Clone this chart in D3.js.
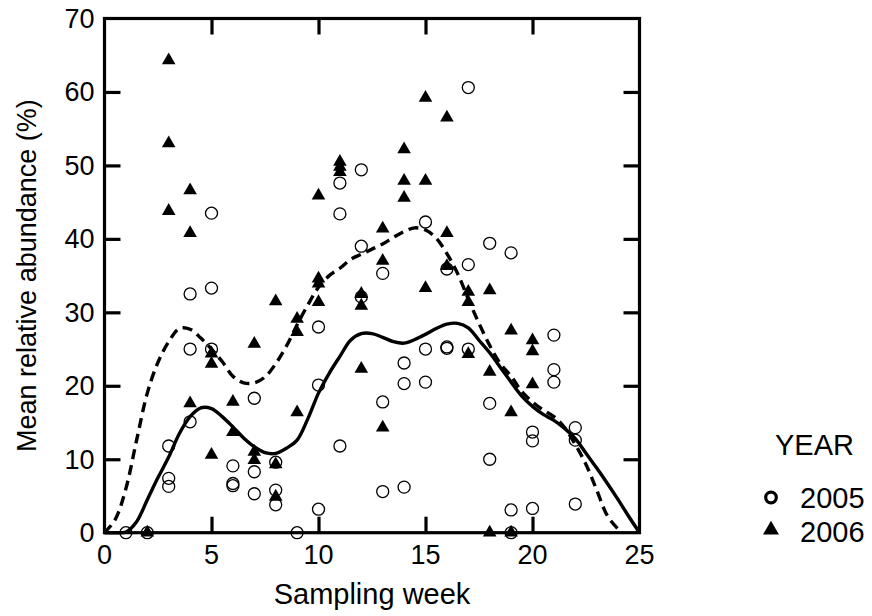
<!DOCTYPE html>
<html>
<head>
<meta charset="utf-8">
<script src="https://cdn.jsdelivr.net/npm/d3@7"></script>
<style>
  body { margin: 0; background: #fff; }
  text { font-family: Arial, "Liberation Sans", Helvetica, sans-serif; fill: #000; }
</style>
</head>
<body>
<svg id="chart" width="872" height="616"></svg>
<script>
// Weekly samples, 2005 (open circles)
const weeks2005 = [1, 2, 3, 3, 3, 4, 4, 4, 5, 5, 5, 6, 6, 6, 7, 7, 7, 8, 8, 8, 9,
  10, 10, 10, 11, 11, 11, 12, 12, 12, 13, 13, 13, 14, 14, 14, 15, 15, 15,
  16, 16, 16, 17, 17, 17, 18, 18, 18, 19, 19, 19, 20, 20, 20, 21, 21, 21, 22, 22, 22];
const abundance2005 = [0, 0, 11.8, 7.4, 6.3, 32.5, 25.0, 15.1, 43.5, 33.3, 25.0, 9.1, 6.7, 6.4,
  18.3, 8.3, 5.3, 9.6, 5.8, 3.8, 0, 28.0, 20.1, 3.2, 47.6, 43.4, 11.8, 49.4, 39.0, 32.1,
  35.3, 17.8, 5.6, 23.1, 20.3, 6.2, 42.3, 25.0, 20.5, 35.9, 25.3, 25.1, 60.6, 36.5, 25.0,
  39.4, 17.6, 10.0, 38.1, 3.1, 0, 13.7, 12.5, 3.3, 26.9, 22.2, 20.5, 14.3, 12.6, 3.9];

// Weekly samples, 2006 (filled triangles)
const weeks2006 = [2, 3, 3, 3, 4, 4, 4, 5, 5, 5, 6, 6, 7, 7, 7, 8, 8, 8, 9, 9, 9,
  10, 10, 10, 10, 11, 11, 11, 12, 12, 12, 13, 13, 13, 14, 14, 14, 15, 15, 15,
  16, 16, 16, 17, 17, 17, 18, 18, 18, 19, 19, 19, 20, 20, 20];
const abundance2006 = [0, 64.3, 53.0, 43.8, 46.6, 40.8, 17.6, 24.4, 23.0, 10.6, 17.8, 13.7,
  25.7, 11.0, 9.9, 31.5, 9.3, 4.9, 29.1, 27.3, 16.4, 45.9, 34.6, 33.9, 31.4,
  50.5, 49.8, 49.1, 32.5, 30.9, 22.3, 41.4, 37.0, 14.3, 52.2, 47.9, 45.6,
  59.2, 47.9, 33.3, 56.5, 40.8, 36.3, 32.8, 31.4, 24.3, 33.0, 21.9, 0,
  27.5, 16.4, 0, 26.2, 24.7, 20.2];

// Smoothed trends (solid = 2005, dashed = 2006)
const trendWeeks2005 = [0, 0.5, 1, 1.5, 2, 2.5, 3, 3.5, 4, 4.5, 5, 5.5, 6, 6.5, 7, 7.5, 8, 8.5,
  9, 9.5, 10, 10.5, 11, 11.5, 12, 12.5, 13, 13.5, 14, 14.5, 15, 15.5, 16, 16.5, 17, 17.5,
  18, 18.5, 19, 19.5, 20, 20.5, 21, 21.5, 22, 22.5, 23, 23.5, 24, 24.5, 25];
const trend2005 = [0, 0, 0.1, 1.5, 4.5, 7.5, 10.3, 13.5, 15.8, 17.0, 16.9, 15.8, 14.4, 12.9,
  11.7, 10.9, 10.8, 11.5, 12.6, 15.5, 19.0, 21.7, 24.0, 26.2, 27.1, 27.1, 26.6, 26.0,
  25.8, 26.3, 27.0, 27.8, 28.4, 28.5, 27.9, 26.2, 24.5, 22.5, 20.5, 18.6, 17.2, 16.1,
  15.3, 14.2, 12.8, 10.8, 8.8, 6.7, 4.5, 2.2, 0];
const trendWeeks2006 = [0, 0.5, 1, 1.5, 2, 2.5, 3, 3.5, 4, 4.5, 5, 5.5, 6, 6.5, 7, 7.5, 8, 8.5,
  9, 9.5, 10, 10.5, 11, 11.5, 12, 12.5, 13, 13.5, 14, 14.5, 15, 15.5, 16, 16.5, 17, 17.5,
  18, 18.5, 19, 19.5, 20, 20.5, 21, 21.5, 22, 22.5, 23, 23.5, 24, 24.2];
const trend2006 = [0, 1.8, 6.0, 12.6, 19.0, 23.2, 26.0, 27.8, 27.7, 26.5, 25.0, 23.3, 21.3,
  20.4, 20.4, 21.2, 23.0, 25.4, 28.3, 31.0, 33.4, 35.0, 36.0, 37.2, 37.9, 38.6, 39.3,
  40.2, 41.0, 41.5, 41.2, 40.1, 38.0, 35.3, 31.8, 28.5, 25.5, 23.0, 21.3, 19.2, 17.8,
  16.7, 15.8, 14.3, 12.0, 9.3, 5.8, 2.3, 0.5, 0];

const xTicks = [0, 5, 10, 15, 20, 25];
const yTicks = [0, 10, 20, 30, 40, 50, 60, 70];
const legendYears = ["2005", "2006"];

const svg = d3.select("#chart");
const plotLeft = 104.5, plotRight = 639.5, plotTop = 18.5, plotBottom = 532.7;

const x = d3.scaleLinear().domain([0, 25]).range([plotLeft, plotRight]);
const y = d3.scaleLinear().domain([0, 70]).range([plotBottom, plotTop]);

const tickLen = 16;
const innerX = xTicks.slice(1, -1);
const innerY = yTicks.slice(1, -1);

// Inward ticks on all four sides, labels on bottom and left only
const gAxes = svg.append("g");
gAxes.append("g").attr("transform", `translate(0,${plotBottom})`)
  .call(d3.axisBottom(x).tickValues(innerX).tickSizeInner(-tickLen).tickSizeOuter(0).tickFormat(""));
gAxes.append("g").attr("transform", `translate(0,${plotTop})`)
  .call(d3.axisTop(x).tickValues(innerX).tickSizeInner(-tickLen).tickSizeOuter(0).tickFormat(""));
gAxes.append("g").attr("transform", `translate(${plotLeft},0)`)
  .call(d3.axisLeft(y).tickValues(innerY).tickSizeInner(-tickLen).tickSizeOuter(0).tickFormat(""));
gAxes.append("g").attr("transform", `translate(${plotRight},0)`)
  .call(d3.axisRight(y).tickValues(innerY).tickSizeInner(-tickLen).tickSizeOuter(0).tickFormat(""));
gAxes.selectAll(".domain").remove();
gAxes.selectAll(".tick line").attr("stroke", "#000").attr("stroke-width", 3.2);

// Tick labels
svg.append("g").selectAll("text").data(xTicks).join("text")
  .attr("x", d => x(d)).attr("y", plotBottom + 31)
  .attr("text-anchor", "middle").attr("font-size", 27).text(d => d);
svg.append("g").selectAll("text").data(yTicks).join("text")
  .attr("x", plotLeft - 10).attr("y", d => y(d) + 9.5)
  .attr("text-anchor", "end").attr("font-size", 27).text(d => d);

// Points
const pts2005 = weeks2005.map((w, i) => ({ w, v: abundance2005[i] }));
const pts2006 = weeks2006.map((w, i) => ({ w, v: abundance2006[i] }));

svg.append("g").selectAll("circle").data(pts2005).join("circle")
  .attr("cx", d => x(d.w)).attr("cy", d => y(d.v)).attr("r", 6)
  .attr("fill", "none").attr("stroke", "#000").attr("stroke-width", 1.3);

const tri = d3.symbol().type(d3.symbolTriangle).size(80);
svg.append("g").selectAll("path").data(pts2006).join("path")
  .attr("transform", d => `translate(${x(d.w)},${y(d.v)})`)
  .attr("d", tri).attr("fill", "#000");

// Trend lines
const line = d3.line().x(d => x(d[0])).y(d => y(d[1])).curve(d3.curveCatmullRom);
svg.append("path")
  .datum(trendWeeks2005.map((w, i) => [w, trend2005[i]]))
  .attr("d", line).attr("fill", "none").attr("stroke", "#000").attr("stroke-width", 3.4);
svg.append("path")
  .datum(trendWeeks2006.map((w, i) => [w, trend2006[i]]))
  .attr("d", line).attr("fill", "none").attr("stroke", "#000").attr("stroke-width", 3.4)
  .attr("stroke-dasharray", "10,6");

// Frame
svg.append("rect")
  .attr("x", plotLeft).attr("y", plotTop)
  .attr("width", plotRight - plotLeft).attr("height", plotBottom - plotTop)
  .attr("fill", "none").attr("stroke", "#000").attr("stroke-width", 3.2);

// Axis titles
svg.append("text").attr("x", (plotLeft + plotRight) / 2).attr("y", 604)
  .attr("text-anchor", "middle").attr("font-size", 29).text("Sampling week");
svg.append("text")
  .attr("transform", `translate(36,${(plotTop + plotBottom) / 2}) rotate(-90)`)
  .attr("text-anchor", "middle").attr("font-size", 27).text("Mean relative abundance (%)");

// Legend
const legend = svg.append("g");
legend.append("text").attr("x", 775).attr("y", 455)
  .attr("font-size", 29).text("YEAR");
legend.selectAll("text.yr").data(legendYears).join("text").attr("class", "yr")
  .attr("x", 800).attr("y", (d, i) => 508 + i * 34).attr("font-size", 29).text(d => d);
legend.append("circle").attr("cx", 771).attr("cy", 497.5).attr("r", 5.3)
  .attr("fill", "none").attr("stroke", "#000").attr("stroke-width", 3.2);
legend.append("path").attr("transform", "translate(771,530)")
  .attr("d", d3.symbol().type(d3.symbolTriangle).size(110)).attr("fill", "#000");
</script>
</body>
</html>
